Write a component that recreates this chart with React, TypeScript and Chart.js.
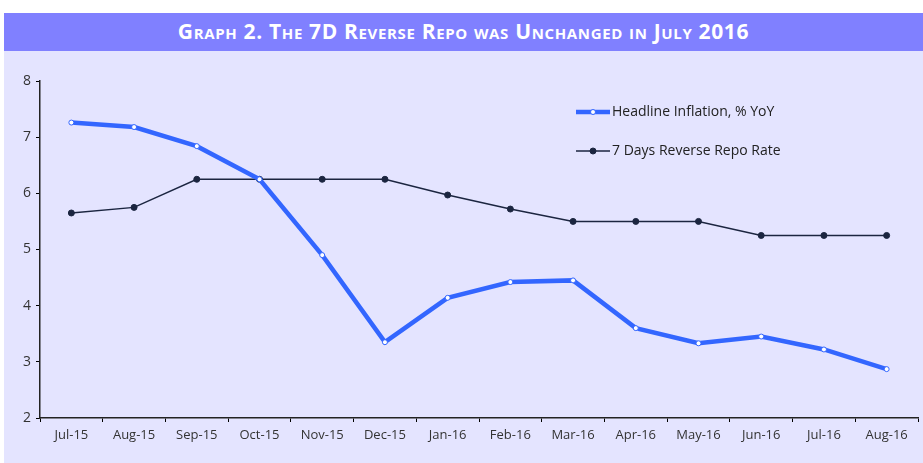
import React, { useEffect, useRef } from "react";
import { Chart, registerables } from "chart.js";

Chart.register(...registerables);

const categories = ["Jul-15","Aug-15","Sep-15","Oct-15","Nov-15","Dec-15","Jan-16","Feb-16","Mar-16","Apr-16","May-16","Jun-16","Jul-16","Aug-16"];
const headlineInflation = [7.26, 7.18, 6.84, 6.25, 4.90, 3.35, 4.14, 4.42, 4.45, 3.60, 3.33, 3.45, 3.22, 2.87];
const reverseRepo = [5.65, 5.75, 6.25, 6.25, 6.25, 6.25, 5.97, 5.72, 5.50, 5.50, 5.50, 5.25, 5.25, 5.25];
const seriesNames = ["Headline Inflation, % YoY", "7 Days Reverse Repo Rate"];
const yMin = 2;
const yMax = 8;
const title = "Graph 2. The 7D Reverse Repo was Unchanged in July 2016";

const BLUE = "#3366FF";
const NAVY = "#1B2540";
const FONT = "'Open Sans', 'Noto Sans', sans-serif";

const legendPlugin = {
  id: "customLegend",
  afterDraw(chart: any) {
    const ctx = chart.ctx;
    const x0 = chart.chartArea.left + 536;
    const rows = [chart.chartArea.top + 31, chart.chartArea.top + 70];
    chart.data.datasets.forEach((ds: any, i: number) => {
      const y = rows[i];
      ctx.save();
      ctx.strokeStyle = ds.borderColor;
      ctx.lineWidth = ds.borderWidth;
      ctx.beginPath();
      ctx.moveTo(x0, y);
      ctx.lineTo(x0 + 34, y);
      ctx.stroke();
      ctx.beginPath();
      ctx.arc(x0 + 17, y, ds.pointRadius, 0, Math.PI * 2);
      ctx.fillStyle = ds.pointBackgroundColor;
      ctx.fill();
      ctx.lineWidth = ds.pointBorderWidth;
      ctx.strokeStyle = ds.pointBorderColor;
      ctx.stroke();
      ctx.fillStyle = "#222";
      ctx.font = "14px " + FONT;
      ctx.textBaseline = "middle";
      ctx.textAlign = "left";
      ctx.fillText(ds.label, x0 + 36, y);
      ctx.restore();
    });
  },
};

export default function App() {
  const ref = useRef<HTMLCanvasElement>(null);
  useEffect(() => {
    document.body.style.margin = "0";
    const chart = new Chart(ref.current as HTMLCanvasElement, {
      type: "line",
      data: {
        labels: categories,
        datasets: [
          {
            label: seriesNames[0],
            data: headlineInflation,
            borderColor: BLUE,
            borderWidth: 4.5,
            pointRadius: 2.5,
            pointBackgroundColor: "#FFFFFF",
            pointBorderColor: BLUE,
            pointBorderWidth: 1,
            tension: 0,
          },
          {
            label: seriesNames[1],
            data: reverseRepo,
            borderColor: NAVY,
            borderWidth: 1.5,
            pointRadius: 3,
            pointBackgroundColor: NAVY,
            pointBorderColor: NAVY,
            pointBorderWidth: 1,
            tension: 0,
          },
        ],
      },
      options: {
        animation: false,
        responsive: false,
        maintainAspectRatio: false,
        layout: { padding: { top: 30, right: 0, left: 0, bottom: 0 } },
        plugins: { legend: { display: false }, tooltip: { enabled: false } },
        scales: {
          x: {
            offset: true,
            grid: { display: true, drawOnChartArea: false, drawTicks: true, tickLength: 4, offset: true, color: "#000" },
            border: { display: true, color: "#222", width: 1.5 },
            ticks: { color: "#333", font: { family: FONT, size: 13 }, padding: 5, maxRotation: 0, autoSkip: false },
            afterFit: (s: any) => { s.height = 45; },
          },
          y: {
            min: yMin,
            max: yMax,
            grid: { display: true, drawOnChartArea: false, drawTicks: true, tickLength: 4, color: "#000" },
            border: { display: true, color: "#222", width: 1.5 },
            ticks: { stepSize: 1, color: "#333", font: { family: FONT, size: 14 }, padding: 5 },
            afterFit: (s: any) => { s.width = 36; },
          },
        },
      },
      plugins: [legendPlugin],
    } as any);
    return () => chart.destroy();
  }, []);

  return (
    <div style={{ position: "relative", width: 923, height: 463, background: "#FFFFFF" }}>
      <div
        style={{
          position: "absolute",
          left: 4,
          top: 13,
          width: 919,
          height: 38,
          background: "#8080FF",
          color: "#FFFFFF",
          fontFamily: "'Open Sans', sans-serif",
          fontWeight: "bold",
          fontVariant: "small-caps",
          fontSize: 21,
          letterSpacing: "0.65px",
          lineHeight: "36px",
          textAlign: "center",
          whiteSpace: "nowrap",
        }}
      >
        {title}
      </div>
      <div style={{ position: "absolute", left: 4, top: 51, width: 919, height: 412, background: "#E4E4FF" }}>
        <canvas ref={ref} width={919} height={412} style={{ display: "block" }} />
      </div>
    </div>
  );
}
